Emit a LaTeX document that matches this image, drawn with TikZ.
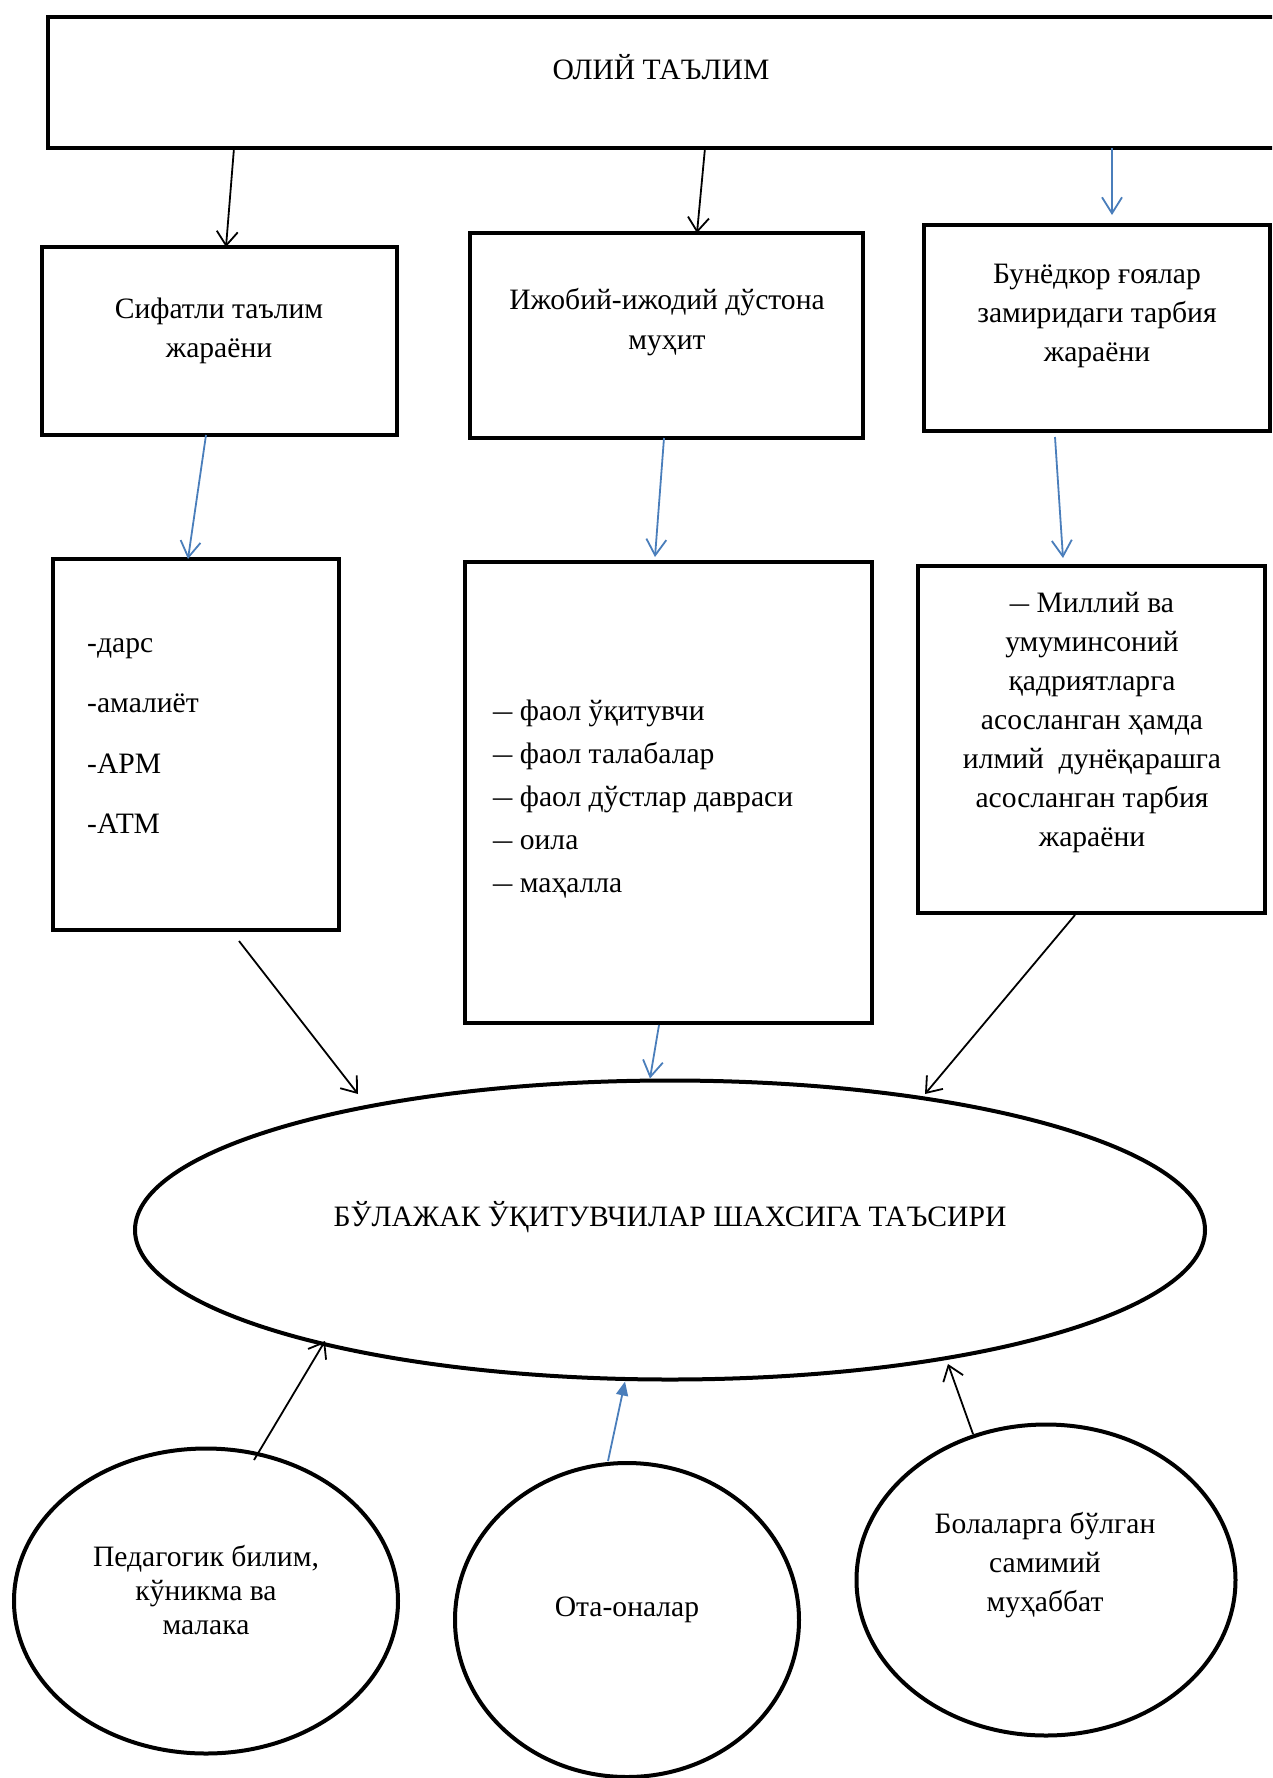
\documentclass[tikz,border=0pt]{standalone}
\usepackage{fontspec}
\setmainfont{Liberation Serif}
\usetikzlibrary{arrows.meta,shapes.geometric}
\definecolor{arrblue}{HTML}{4A7EBB}
\newcommand{\ldash}{\scalebox{1.3}[1]{–}}
\begin{document}
\begin{tikzpicture}[x=1pt,y=-1pt,
  box/.style={draw=black,line width=4pt,rectangle,inner sep=0pt,outer sep=0pt,anchor=north west},
  oval/.style={draw=black,line width=4pt,ellipse,inner sep=0pt,outer sep=0pt},
  txt/.style={font=\fontsize{29.6}{39}\selectfont,inner sep=0pt},
  blk/.style={line width=1.8pt,-{Straight Barb[length=14pt,width=21pt]}},
  blu/.style={line width=1.8pt,draw=arrblue,-{Straight Barb[length=16pt,width=20pt]}},
  bluf/.style={line width=1.8pt,draw=arrblue,fill=arrblue,-{Triangle[length=14pt,width=12pt]}}
]
\useasboundingbox (0,0) rectangle (1272,1778);
\clip (0,0) rectangle (1272,1778);
\fill[white] (0,0) rectangle (1272,1778);

% boxes
\node[box,minimum width=1250,minimum height=131] (top) at (48,17) {};
\node[box,minimum width=355,minimum height=188] (b1) at (42,247) {};
\node[box,minimum width=393,minimum height=205] (b2) at (470,233) {};
\node[box,minimum width=346,minimum height=206] (b3) at (924,225) {};
\node[box,minimum width=286,minimum height=371] (c1) at (53,559) {};
\node[box,minimum width=407,minimum height=461] (c2) at (465,562) {};
\node[box,minimum width=347,minimum height=347] (c3) at (918,566) {};

% ellipses
\node[oval,minimum width=1070,minimum height=299] (E) at (670,1230) {};
\node[oval,minimum width=384,minimum height=305] (e1) at (206,1601) {};
\node[oval,minimum width=344,minimum height=314] (e2) at (627,1620) {};
\node[oval,minimum width=379,minimum height=311] (e3) at (1046,1580) {};

% texts
\node[txt] (t0) at (661,67) {ОЛИЙ ТАЪЛИМ};
\node[txt,align=center,font=\fontsize{29.6}{38.5}\selectfont] (tb1) at (219,331) {Сифатли таълим\\жараёни};
\node[txt,align=center,font=\fontsize{29.6}{40}\selectfont] (tb2) at (667,322) {Ижобий-ижодий дўстона\\муҳит};
\node[txt,align=center] (tb3) at (1097,316) {Бунёдкор ғоялар\\замиридаги тарбия\\жараёни};
\node[txt,align=left,anchor=west,font=\fontsize{29.6}{60.5}\selectfont] (tc1) at (87,736) {-дарс\\-амалиёт\\-АРМ\\-АТМ};
\node[txt,align=left,anchor=west,font=\fontsize{29.6}{42.8}\selectfont] (tc2) at (493,799) {\ldash{} фаол ўқитувчи\\\ldash{} фаол талабалар\\\ldash{} фаол дўстлар давраси\\\ldash{} оила\\\ldash{} маҳалла};
\node[txt,align=center] (tc3) at (1092,723) {\ldash{} Миллий ва\\умуминсоний\\қадриятларга\\асосланган ҳамда\\илмий\ \ дунёқарашга\\асосланган тарбия\\жараёни};
\node[txt] (tE) at (670,1217) {БЎЛАЖАК ЎҚИТУВЧИЛАР ШАХСИГА ТАЪСИРИ};
\node[txt,align=center,font=\fontsize{29.6}{34}\selectfont] (te1) at (206,1590) {Педагогик билим,\\кўникма ва\\малака};
\node[txt] (te2) at (627,1610) {Ота-оналар};
\node[txt,align=center] (te3) at (1045,1565) {Болаларга бўлган\\самимий\\муҳаббат};

% connectors
\draw[blk] ([xshift=186]top.south west) -- ([xshift=184]b1.north west);
\draw[blk] ([xshift=657]top.south west) -- ([xshift=227]b2.north west);
\draw[blu] ([xshift=1064]top.south west) -- ([xshift=188,yshift=10]b3.north west);
\draw[blu] ([xshift=164]b1.south west) -- ([xshift=135]c1.north west);
\draw[blu] ([xshift=194]b2.south west) -- ([xshift=190,yshift=5]c2.north west);
\draw[blu] ([xshift=131,yshift=-6]b3.south west) -- ([xshift=145,yshift=8]c3.north west);
\draw[blk] ([xshift=186,yshift=-11]c1.south west) -- ([xshift=-312,yshift=136]E.center);
\draw[blu] ([xshift=194,yshift=-2]c2.south west) -- ([xshift=-20,yshift=2]E.north);
\draw[blk] ([xshift=157,yshift=-2]c3.south west) -- ([xshift=255,yshift=136]E.center);
\draw[blk] ([xshift=48,yshift=141]e1.center) -- ([xshift=-345,yshift=-111]E.center);
\draw[bluf] ([xshift=-19,yshift=2]e2.north) -- ([xshift=-45,yshift=-2]E.south);
\draw[blk] ([xshift=-73,yshift=146]e3.center) -- ([xshift=278,yshift=-134]E.center);
\end{tikzpicture}
\end{document}
